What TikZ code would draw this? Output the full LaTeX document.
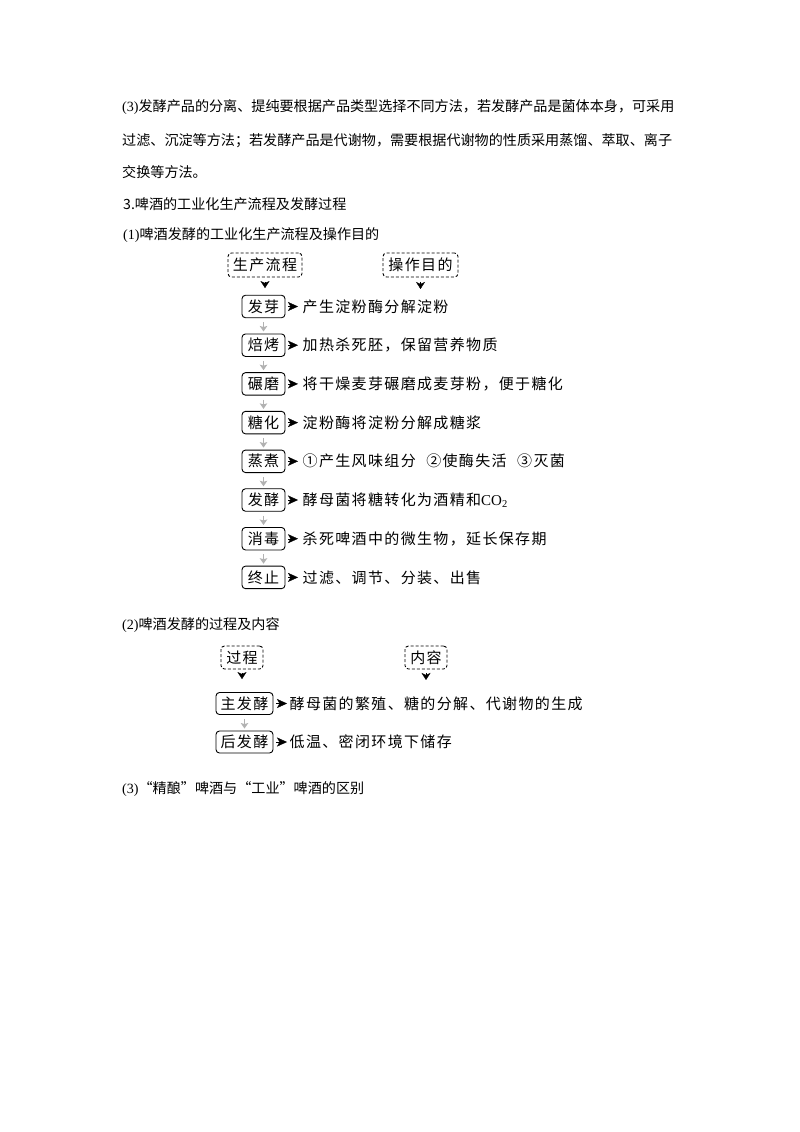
\documentclass[tikz,border=0pt]{standalone}
\usepackage{fontspec}
\setmainfont{Liberation Serif}
\newfontfamily\cjk{Noto Sans CJK SC}
\newfontfamily\cjkd[LetterSpace=9]{Noto Sans CJK SC}
\newfontfamily\lat{Liberation Serif}
\usetikzlibrary{arrows.meta}
\XeTeXlinebreaklocale "zh"
\XeTeXlinebreakskip=0pt plus 2pt
\begin{document}
\begin{tikzpicture}[x=1pt,y=-1pt,
  bodytxt/.style={anchor=west, inner sep=0pt, font=\fontsize{14.1pt}{17pt}\selectfont\cjk},
  dtxt/.style={anchor=west, inner sep=0pt, font=\fontsize{15pt}{18pt}\selectfont\cjkd},
  stepbox/.style={draw, rounded corners=3.5pt, line width=0.9pt, inner sep=0pt,
    minimum height=22.5pt, minimum width=43pt, font=\fontsize{15pt}{18pt}\selectfont\cjkd},
  widebox/.style={stepbox, minimum width=57pt, minimum height=22pt},
  hdrbox/.style={stepbox, dash pattern=on 3pt off 2pt, minimum height=24pt},
  rarr/.style={line width=0.3pt, -{Stealth[length=10pt,width=9pt,inset=2.5pt]}},
  darr/.style={line width=0.3pt, -{Stealth[length=7pt,width=9pt,inset=2pt]}},
  garr/.style={draw=gray!60, line width=1.6pt, -{Stealth[length=5.5pt,width=7.5pt,inset=1pt,fill=gray!60]},
    shorten <=4pt, shorten >=2pt}
]
\useasboundingbox (0,0) rectangle (800,1132);

% ---- body text ----
\node[bodytxt] (p1) at (122,107.5) {\makebox[556pt][s]{{\lat (3)}发酵产品的分离、提纯要根据产品类型选择不同方法，若发酵产品是菌体本身，可采用}};
\node[bodytxt] (p2) at (122,140.5) {\makebox[556pt][s]{过滤、沉淀等方法；若发酵产品是代谢物，需要根据代谢物的性质采用蒸馏、萃取、离子}};
\node[bodytxt] (p3) at (122,172) {交换等方法。};
\node[bodytxt] (p4) at (123,204) {3.啤酒的工业化生产流程及发酵过程};
\node[bodytxt] (p5) at (123,235) {{\lat (1)}啤酒发酵的工业化生产流程及操作目的};
\node[bodytxt] (p6) at (122,625) {{\lat (2)}啤酒发酵的过程及内容};
\node[bodytxt] (p7) at (122,789) {{\lat (3)}“精酿”啤酒与“工业”啤酒的区别};

% ---- diagram 1 ----
\node[hdrbox, minimum width=74pt] (h1) at (265,265) {生产流程};
\node[hdrbox, minimum width=75pt] (h2) at (420.5,265) {操作目的};

\node[stepbox] (b0) at (263.5,306.5) {发芽};
\node[stepbox] (b1) at (263.5,345.2) {焙烤};
\node[stepbox] (b2) at (263.5,383.9) {碾磨};
\node[stepbox] (b3) at (263.5,422.6) {糖化};
\node[stepbox] (b4) at (263.5,461.3) {蒸煮};
\node[stepbox] (b5) at (263.5,500.0) {发酵};
\node[stepbox] (b6) at (263.5,538.7) {消毒};
\node[stepbox] (b7) at (263.5,577.4) {终止};

\node[dtxt] (t0) at (302.5,306.5) {产生淀粉酶分解淀粉};
\node[dtxt] (t1) at (302.5,345.2) {加热杀死胚，保留营养物质};
\node[dtxt] (t2) at (302.5,383.9) {将干燥麦芽碾磨成麦芽粉，便于糖化};
\node[dtxt] (t3) at (302.5,422.6) {淀粉酶将淀粉分解成糖浆};
\node[dtxt] (t4) at (302.5,461.3) {①产生风味组分\hspace{0.7em}②使酶失活\hspace{0.7em}③灭菌};
\node[dtxt] (t5) at (302.5,500.0) {酵母菌将糖转化为酒精和{\lat CO\textsubscript{2}}};
\node[dtxt] (t6) at (302.5,538.7) {杀死啤酒中的微生物，延长保存期};
\node[dtxt] (t7) at (302.5,577.4) {过滤、调节、分装、出售};

\path (h2.south) ++(0,18.25) coordinate (c0);
\draw[darr, shorten <=4.5pt, shorten >=6.75pt] (h1.south) -- (h1.south |- b0.north);
\draw[darr, shorten <=4.5pt, shorten >=6.75pt] (h2.south) -- (c0);

\foreach \i in {0,...,7}{
  \draw[rarr, shorten <=3pt, shorten >=4.5pt] (b\i.east) -- (t\i.west);
}
\foreach \i/\j in {0/1,1/2,2/3,3/4,4/5,5/6,6/7}{
  \draw[garr] (b\i.south) -- (b\j.north);
}

% ---- diagram 2 ----
\node[hdrbox, minimum width=42pt, minimum height=23pt] (h3) at (242,657.5) {过程};
\node[hdrbox, minimum width=42pt, minimum height=23pt] (h4) at (426,657.5) {内容};

\node[widebox] (m0) at (244.5,703.5) {主发酵};
\node[widebox] (m1) at (244.5,742) {后发酵};

\node[dtxt] (s0) at (289.5,703.5) {酵母菌的繁殖、糖的分解、代谢物的生成};
\node[dtxt] (s1) at (289.5,742) {低温、密闭环境下储存};

\path (h4.south) ++(0,23.5) coordinate (c1);
\draw[darr, shorten <=3.5pt, shorten >=13pt] (h3.south) -- (h3.south |- m0.north);
\draw[darr, shorten <=3.5pt, shorten >=13pt] (h4.south) -- (c1);

\draw[rarr, shorten <=3pt, shorten >=2.5pt] (m0.east) -- (s0.west);
\draw[rarr, shorten <=3pt, shorten >=2.5pt] (m1.east) -- (s1.west);
\draw[garr] (m0.south) -- (m1.north);
\end{tikzpicture}
\end{document}
